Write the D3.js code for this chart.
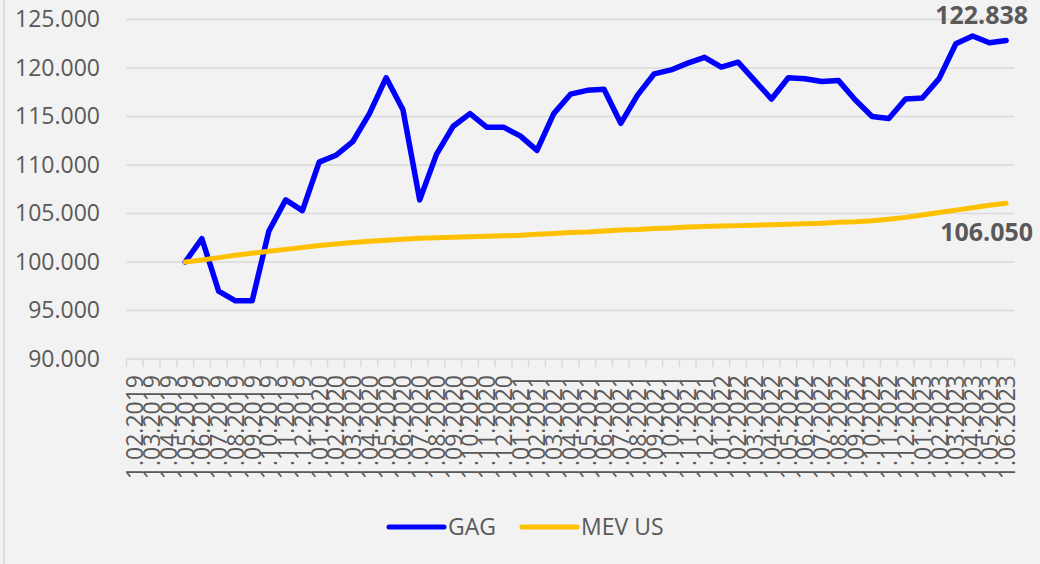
<!DOCTYPE html>
<html>
<head>
<meta charset="utf-8">
<style>
    body { margin: 0; background: #f2f2f2; }
    svg { display: block; font-family: 'Open Sans', 'Noto Sans', sans-serif; }
    .grid line { stroke: #d9d9d9; stroke-width: 1.5; }
    .tick-label { font-size: 23px; fill: #595959; }
    .data-label { font-size: 25px; font-weight: 700; fill: #595959; }
</style>
</head>
<body>
<svg width="1040" height="564"></svg>
<script src="https://d3js.org/d3.v7.min.js"></script>
<script>
    // monthly categories on the x axis
    let months = []
    let years = [2019, 2020, 2021, 2022, 2023]
    years.forEach(yr => {
        for (let m = 1; m <= 12; m++) {
            if (yr == 2019 && m < 2) continue
            if (yr == 2023 && m > 6) continue
            months.push("1." + (m < 10 ? "0" + m : m) + "." + yr)
        }
    })

    // both series start at 1.05.2019
    let startLabel = "1.05.2019"

    let gag = [100.0, 102.4, 97.0, 96.0, 96.0, 103.2, 106.4, 105.3, 110.3, 111.0,
        112.4, 115.3, 119.0, 115.7, 106.4, 111.1, 114.0, 115.3, 113.9, 113.9,
        113.0, 111.5, 115.3, 117.3, 117.7, 117.8, 114.3, 117.2, 119.4, 119.8,
        120.5, 121.1, 120.1, 120.6, 118.7, 116.8, 119.0, 118.9, 118.6, 118.7,
        116.7, 115.0, 114.8, 116.8, 116.9, 118.9, 122.5, 123.3, 122.6, 122.838]

    let mev = [100.0, 100.2, 100.45, 100.7, 100.9, 101.1, 101.3, 101.5, 101.7, 101.85,
        102.0, 102.15, 102.25, 102.35, 102.45, 102.5, 102.55, 102.6, 102.65, 102.7,
        102.75, 102.85, 102.95, 103.05, 103.1, 103.2, 103.3, 103.35, 103.45, 103.5,
        103.6, 103.65, 103.7, 103.75, 103.8, 103.85, 103.9, 103.95, 104.0, 104.1,
        104.15, 104.25, 104.4, 104.6, 104.85, 105.1, 105.35, 105.6, 105.85, 106.05]

    let yTicks = [90, 95, 100, 105, 110, 115, 120, 125]
    let seriesNames = ["GAG", "MEV US"]
    let seriesColors = ["#0000ff", "#ffc000"]

    let svg = d3.select("svg")

    // thin border on the left like the original frame
    svg.append("line")
        .attr("x1", 4).attr("x2", 4)
        .attr("y1", 0).attr("y2", 564)
        .attr("stroke", "#d9d9d9")
        .attr("stroke-width", 1.5)

    let x = d3.scaleBand()
        .domain(months)
        .range([126.5, 1014.5])
        .padding(0)

    let y = d3.scaleLinear()
        .domain([90, 125])
        .range([359, 19.5])

    let fmt = d3.format(".3f")
    let startIdx = months.indexOf(startLabel)
    let xPos = i => x(months[startIdx + i]) + x.bandwidth() / 2

    // horizontal gridlines
    svg.append("g")
        .attr("class", "grid")
        .selectAll("line")
        .data(yTicks.filter(d => d > 90))
        .join("line")
        .attr("x1", 126.5)
        .attr("x2", 1014.5)
        .attr("y1", d => y(d))
        .attr("y2", d => y(d))

    // y tick labels
    svg.append("g")
        .selectAll("text")
        .data(yTicks)
        .join("text")
        .attr("class", "tick-label")
        .attr("x", 100)
        .attr("y", d => y(d) + 7.5)
        .attr("text-anchor", "end")
        .text(d => fmt(d))

    // x axis with ticks between categories
    let xAxis = svg.append("g")
        .attr("transform", `translate(0, ${y(90)})`)
    xAxis.append("line")
        .attr("x1", 126.5).attr("x2", 1014.5)
        .attr("stroke", "#d9d9d9").attr("stroke-width", 1.5)
    xAxis.selectAll(".tk")
        .data(months.concat(["end"]))
        .join("line")
        .attr("class", "tk")
        .attr("x1", (d, i) => 126.5 + i * x.bandwidth())
        .attr("x2", (d, i) => 126.5 + i * x.bandwidth())
        .attr("y1", 0).attr("y2", 8)
        .attr("stroke", "#d9d9d9").attr("stroke-width", 1.5)

    svg.append("g")
        .selectAll("text")
        .data(months)
        .join("text")
        .attr("class", "tick-label")
        .attr("text-anchor", "end")
        .attr("transform", d => `translate(${x(d) + x.bandwidth() / 2 + 8.4}, 375) rotate(-90)`)
        .text(d => d)

    // lines
    let line = d3.line()
        .x((d, i) => xPos(i))
        .y(d => y(d))

    let series = [gag, mev]
    svg.append("g")
        .selectAll("path")
        .data(series)
        .join("path")
        .attr("d", d => line(d))
        .attr("fill", "none")
        .attr("stroke", (d, i) => seriesColors[i])
        .attr("stroke-width", (d, i) => i == 0 ? 5.5 : 5)
        .attr("stroke-linejoin", "round")
        .attr("stroke-linecap", "round")

    // end value labels
    let lastI = gag.length - 1
    svg.append("text")
        .attr("class", "data-label")
        .attr("x", xPos(lastI) + 22)
        .attr("y", y(gag[lastI]) - 16.5)
        .attr("text-anchor", "end")
        .text(fmt(gag[lastI]))

    svg.append("text")
        .attr("class", "data-label")
        .attr("x", xPos(lastI) + 27)
        .attr("y", y(mev[lastI]) + 37.5)
        .attr("text-anchor", "end")
        .text(fmt(mev[lastI]))

    // legend
    let legX = [389, 522]
    let legend = svg.append("g")
        .selectAll("g")
        .data(seriesNames)
        .join("g")
        .attr("transform", (d, i) => `translate(${legX[i]}, 527)`)
    legend.append("line")
        .attr("x1", 0).attr("x2", 55)
        .attr("stroke", (d, i) => seriesColors[i])
        .attr("stroke-width", 5)
        .attr("stroke-linecap", "round")
    legend.append("text")
        .attr("class", "tick-label")
        .attr("x", 59)
        .attr("y", 8)
        .text(d => d)
</script>
</body>
</html>
